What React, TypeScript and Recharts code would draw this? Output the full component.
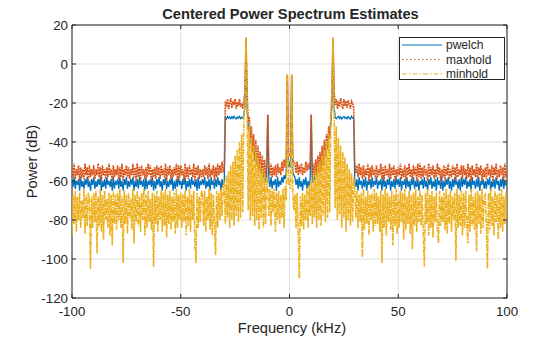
import React from 'react';
import { LineChart, Line, XAxis, YAxis, CartesianGrid, Legend, ReferenceArea } from 'recharts';

// Frequency grid (kHz), 0.5 kHz bins from -100 to 100
const freqKHz: number[] = Array.from({ length: 401 }, (_, i) => -100 + i * 0.5);

const xTicks = [-100, -50, 0, 50, 100];
const yTicks = [-120, -100, -80, -60, -40, -20, 0, 20];

// pwelch (dB), rows of 10 kHz
const pwelchDb: number[] = [
  -59,-63,-58,-64,-60,-62,-59,-65,-58,-63,-60,-64,-59,-62,-58,-63,-60,-65,-59,-62,
  -58,-64,-60,-63,-59,-62,-58,-65,-60,-63,-59,-64,-58,-62,-60,-63,-59,-65,-58,-64,
  -60,-62,-59,-64,-58,-63,-60,-65,-59,-62,-58,-64,-60,-63,-59,-62,-58,-65,-60,-63,
  -59,-64,-58,-62,-60,-63,-59,-65,-58,-64,-60,-62,-59,-63,-58,-65,-60,-64,-59,-62,
  -58,-63,-60,-65,-59,-62,-58,-64,-60,-63,-59,-62,-58,-65,-60,-64,-59,-63,-58,-62,
  -60,-64,-59,-62,-58,-65,-60,-63,-59,-64,-58,-62,-60,-63,-59,-65,-58,-64,-60,-62,
  -59,-62,-58,-64,-60,-63,-59,-65,-58,-62,-60,-64,-59,-63,-58,-62,-60,-65,-59,-63,
  -61,-27.5,-28.3,-26.9,-27.8,-27.2,-28.1,-27.0,-27.9,-26.8,-27.6,-28.2,-27.1,-27.8,-26.9,-28.0,-27.3,-27.7,-26.6,-22,
  13.5,-22,-32,-35,-40,-41,-45,-45,-49,-48,-51,-51,-54,-53,-56,-55,-58,-57,-60,-59,
  -26,-59,-63,-58,-64,-60,-62,-59,-65,-58,-63,-60,-62,-58,-61,-57,-59,-55,-5.5,-53,
  -50,-53,-5.5,-55,-57,-58,-62,-59,-64,-58,-63,-60,-65,-59,-62,-58,-64,-60,-63,-59,
  -26,-61,-58,-59,-56,-57,-54,-55,-52,-53,-49,-50,-47,-47,-43,-43,-38,-37,-30,-22,
  13.5,-22,-27.2,-28.0,-27.4,-26.8,-27.9,-27.1,-28.2,-27.5,-26.9,-27.8,-27.3,-28.1,-27.0,-27.6,-28.3,-26.8,-27.7,-27.3,
  -60,-63,-59,-65,-58,-62,-60,-64,-59,-63,-58,-65,-60,-62,-59,-64,-58,-63,-60,-62,
  -58,-64,-60,-62,-59,-65,-58,-63,-60,-64,-59,-62,-58,-65,-60,-63,-59,-64,-58,-62,
  -59,-63,-58,-65,-60,-62,-59,-64,-58,-63,-60,-65,-59,-62,-58,-64,-60,-63,-59,-65,
  -60,-62,-59,-64,-58,-63,-60,-65,-59,-62,-58,-64,-60,-63,-59,-65,-58,-62,-60,-64,
  -58,-65,-60,-63,-59,-62,-58,-64,-60,-65,-59,-63,-58,-62,-60,-64,-59,-65,-58,-63,
  -59,-62,-58,-64,-60,-63,-59,-65,-58,-62,-60,-64,-59,-63,-58,-65,-60,-62,-59,-64,
  -60,-64,-59,-62,-58,-65,-60,-63,-59,-64,-58,-62,-60,-65,-59,-63,-58,-64,-60,-62,
  -61,
];

// maxhold (dB)
const maxholdDb: number[] = [
  -53,-58,-51,-59,-54,-57,-52,-60,-53,-58,-54,-59,-51,-57,-53,-60,-52,-58,-54,-57,
  -52,-59,-54,-57,-51,-58,-53,-60,-52,-57,-54,-59,-53,-58,-51,-57,-54,-60,-52,-58,
  -54,-57,-52,-59,-53,-58,-51,-60,-54,-57,-52,-58,-53,-59,-54,-57,-51,-58,-53,-60,
  -51,-58,-53,-60,-52,-57,-54,-59,-53,-58,-51,-57,-52,-60,-54,-58,-53,-59,-52,-57,
  -53,-59,-52,-57,-54,-58,-51,-60,-53,-57,-52,-59,-54,-58,-53,-57,-51,-60,-52,-58,
  -52,-57,-54,-60,-51,-58,-53,-59,-52,-57,-54,-58,-51,-60,-53,-57,-52,-59,-54,-58,
  -54,-58,-52,-57,-53,-59,-51,-58,-54,-57,-52,-60,-53,-58,-51,-57,-52,-56,-50,-55,
  -54,-19,-22,-18,-23,-20,-17.5,-22.5,-19,-21,-18,-23,-19.5,-21.5,-18,-22,-20,-23,-18.5,-14,
  13.5,-14,-30,-27,-38,-32,-44,-36,-48,-39,-52,-42,-55,-45,-56,-47,-57,-49,-58,-51,
  -26,-52,-57,-51,-58,-53,-57,-52,-58,-51,-56,-53,-57,-50,-55,-49,-53,-48,-5.5,-47,
  -46,-47,-5.5,-49,-50,-51,-56,-50,-57,-52,-56,-51,-57,-53,-56,-50,-55,-51,-54,-50,
  -26,-58,-51,-57,-49,-57,-47,-56,-45,-55,-42,-52,-39,-48,-36,-44,-32,-38,-27,-14,
  13.5,-14,-21,-18,-23,-19,-22,-17.5,-20.5,-23,-18,-21.5,-19,-22.5,-18.5,-21,-23,-19,-20,-22.5,
  -50,-56,-52,-58,-51,-57,-53,-59,-52,-58,-54,-57,-51,-60,-53,-58,-52,-57,-54,-59,
  -52,-58,-54,-57,-51,-59,-53,-60,-52,-57,-54,-58,-51,-59,-53,-57,-52,-60,-54,-58,
  -53,-57,-51,-59,-54,-58,-52,-60,-53,-57,-51,-58,-54,-59,-52,-57,-53,-60,-51,-58,
  -51,-59,-53,-58,-52,-57,-54,-60,-51,-58,-53,-57,-52,-59,-54,-58,-51,-57,-53,-60,
  -54,-58,-52,-60,-53,-57,-51,-59,-54,-58,-52,-57,-53,-60,-51,-58,-54,-57,-52,-59,
  -52,-57,-54,-59,-51,-58,-53,-60,-52,-57,-54,-58,-51,-59,-53,-57,-52,-60,-54,-58,
  -53,-59,-51,-57,-54,-58,-52,-60,-53,-57,-51,-59,-54,-58,-52,-57,-53,-60,-51,-58,
  -55,
];

// minhold (dB)
const minholdDb: number[] = [
  -88,-67,-82,-65,-86,-68,-80,-66,-84,-70,-79,-64,-87,-67,-83,-66,-69,-105,-68,-84,
  -66,-81,-65,-97,-68,-83,-64,-86,-67,-90,-65,-80,-69,-84,-66,-88,-67,-93,-65,-82,
  -67,-85,-66,-80,-64,-84,-68,-102,-65,-82,-67,-87,-66,-79,-69,-85,-64,-92,-67,-81,
  -65,-83,-68,-86,-66,-80,-64,-88,-67,-84,-65,-81,-69,-85,-66,-104,-67,-82,-65,-86,
  -68,-80,-65,-86,-66,-83,-64,-89,-67,-82,-65,-85,-68,-81,-66,-87,-64,-84,-67,-80,
  -66,-84,-67,-81,-65,-88,-68,-83,-64,-86,-67,-80,-65,-92,-102,-66,-84,-68,-81,-65,
  -67,-83,-65,-86,-68,-80,-64,-85,-66,-88,-67,-82,-98,-65,-84,-66,-80,-64,-78,-63,
  -60,-82,-57,-79,-55,-84,-52,-80,-50,-83,-47,-78,-44,-81,-40,-79,-36,-76,-28,-21,
  13.5,-21,-75,-32,-80,-38,-78,-42,-83,-45,-80,-48,-85,-51,-79,-54,-84,-56,-82,-58,
  -62,-78,-64,-83,-65,-76,-64,-86,-66,-80,-65,-82,-67,-79,-64,-84,-63,-70,-5.5,-62,
  -60,-64,-5.5,-66,-75,-67,-84,-66,-86,-110,-68,-83,-66,-85,-67,-80,-64,-84,-62,-78,
  -60,-82,-57,-79,-55,-84,-52,-80,-50,-83,-47,-78,-44,-81,-40,-79,-36,-76,-28,-21,
  13.5,-21,-74,-32,-80,-38,-77,-42,-84,-45,-79,-48,-86,-51,-80,-54,-83,-56,-81,-58,
  -63,-79,-65,-84,-67,-81,-66,-99,-64,-85,-68,-82,-65,-88,-67,-80,-66,-86,-64,-83,
  -66,-82,-68,-86,-65,-102,-67,-84,-64,-88,-66,-81,-68,-85,-65,-93,-67,-83,-64,-87,
  -67,-84,-65,-81,-66,-90,-64,-85,-68,-82,-65,-87,-67,-95,-66,-83,-64,-86,-68,-81,
  -65,-83,-67,-86,-104,-66,-82,-64,-88,-67,-84,-65,-89,-68,-81,-66,-85,-92,-65,-83,
  -68,-81,-66,-85,-64,-87,-67,-82,-65,-86,-68,-80,-66,-101,-64,-84,-67,-83,-65,-88,
  -66,-84,-65,-81,-92,-67,-86,-64,-83,-68,-85,-66,-96,-65,-82,-67,-87,-64,-84,-68,
  -67,-82,-105,-66,-85,-64,-83,-68,-88,-65,-81,-67,-90,-66,-84,-64,-86,-68,-82,-66,
  -80,
];

const seriesNames = ['pwelch', 'maxhold', 'minhold'];
const seriesColors = ['#0072BD', '#D95319', '#EDB120'];
const seriesWidth = [1.3, 1.6, 1.6];
const seriesDash = [undefined, '2 0.8', '5 1 1.5 1'];
const legendDash = [undefined, '1.5 2.5', '5 2 1.5 2'];

const data = freqKHz.map((f, i) => ({
  f,
  pwelch: pwelchDb[i],
  maxhold: maxholdDb[i],
  minhold: minholdDb[i],
}));

const W = 560;
const H = 337;
const M = { top: 25, right: 53, bottom: 0, left: 0 };
const Y_AXIS_W = 72;
const X_AXIS_H = 39;
const PL = M.left + Y_AXIS_W;
const PR = W - M.right;
const PT = M.top;
const PB = H - M.bottom - X_AXIS_H;
const AX = '#262626';
const FONT = '"Liberation Sans", Arial, Helvetica, sans-serif';
const TICK_FS = 13.33;
const LABEL_FS = 14.67;

const YTick = (props: any) => {
  const { x, y, payload } = props;
  return (
    <g>
      <text x={x} y={y} dy="0.35em" textAnchor="end" fontSize={TICK_FS} fill={AX} fontFamily={FONT}>
        {payload.value}
      </text>
      <line x1={PL} x2={PL + 4} y1={y} y2={y} stroke={AX} strokeWidth={1} />
      <line x1={PR - 4} x2={PR} y1={y} y2={y} stroke={AX} strokeWidth={1} />
    </g>
  );
};

const XTick = (props: any) => {
  const { x, y, payload } = props;
  return (
    <g>
      <text x={x} y={y} dy="0.71em" textAnchor="middle" fontSize={TICK_FS} fill={AX} fontFamily={FONT}>
        {payload.value}
      </text>
      <line x1={x} x2={x} y1={PB - 4} y2={PB} stroke={AX} strokeWidth={1} />
      <line x1={x} x2={x} y1={PT} y2={PT + 4} stroke={AX} strokeWidth={1} />
    </g>
  );
};

const LegendBox = () => (
  <svg width={106} height={43} style={{ display: 'block' }}>
    <rect x={0.5} y={0.5} width={105} height={42} fill="#ffffff" stroke={AX} strokeWidth={1} />
    {seriesNames.map((name, i) => {
      const cy = 8 + i * 14.5;
      return (
        <g key={name}>
          <line x1={3} x2={43} y1={cy} y2={cy} stroke={seriesColors[i]} strokeWidth={1} strokeDasharray={legendDash[i]} />
          <text x={47} y={cy} dy="0.35em" fontSize={12} fill={AX} fontFamily={FONT}>
            {name}
          </text>
        </g>
      );
    })}
  </svg>
);

export default function App() {
  return (
    <div style={{ position: 'absolute', left: 0, top: 0, width: W, height: H, background: '#ffffff', fontFamily: FONT }}>
      <LineChart width={W} height={H} data={data} margin={M}>
        <CartesianGrid stroke="#dfdfdf" strokeWidth={1} />
        <XAxis
          dataKey="f"
          type="number"
          domain={[-100, 100]}
          ticks={xTicks}
          allowDataOverflow
          height={X_AXIS_H}
          tickSize={0}
          tickMargin={8.5}
          axisLine={false}
          tick={<XTick />}
          interval={0}
        />
        <YAxis
          type="number"
          domain={[-120, 20]}
          ticks={yTicks}
          allowDataOverflow
          width={Y_AXIS_W}
          tickSize={0}
          tickMargin={4}
          axisLine={false}
          tick={<YTick />}
          interval={0}
        />
        {seriesNames.map((name, i) => (
          <Line
            key={name}
            type="linear"
            dataKey={name}
            stroke={seriesColors[i]}
            strokeWidth={seriesWidth[i]}
            strokeDasharray={seriesDash[i]}
            dot={false}
            activeDot={false}
            isAnimationActive={false}
          />
        ))}
        <ReferenceArea x1={-100} x2={100} y1={-120} y2={20} fill="none" stroke={AX} strokeWidth={1} ifOverflow="visible" />
        <Legend
          layout="vertical"
          align="center"
          verticalAlign="middle"
          content={() => <LegendBox />}
          wrapperStyle={{ position: 'absolute', left: 399, top: 37, width: 106, height: 43 }}
        />
      </LineChart>
      <svg width={W} height={H} style={{ position: 'absolute', left: 0, top: 0, pointerEvents: 'none' }}>
        <text x={290.5} y={19} textAnchor="middle" fontSize={LABEL_FS} fontWeight="bold" fill={AX} fontFamily={FONT}>
          Centered Power Spectrum Estimates
        </text>
        <text x={292} y={332.5} textAnchor="middle" fontSize={LABEL_FS} fill={AX} fontFamily={FONT}>
          Frequency (kHz)
        </text>
        <text x={36.5} y={161.5} textAnchor="middle" fontSize={LABEL_FS} fill={AX} fontFamily={FONT} transform="rotate(-90, 36.5, 161.5)">
          Power (dB)
        </text>
      </svg>
    </div>
  );
}
